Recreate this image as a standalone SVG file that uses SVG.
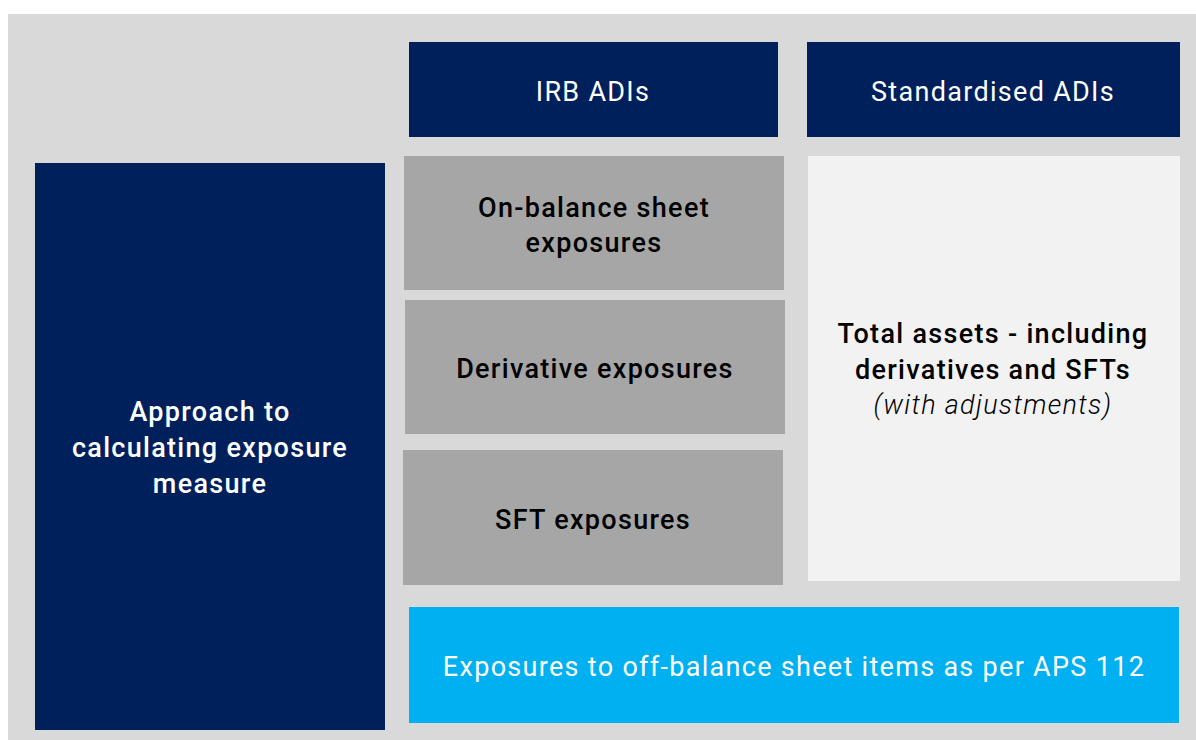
<svg xmlns="http://www.w3.org/2000/svg" width="1196" height="740" viewBox="0 0 1196 740">
  <style>
    .navy { fill: #00205b; }
    .grey { fill: #a6a6a6; }
    .light { fill: #f2f2f2; }
    .cyan { fill: #00b0f0; }
    text { font-family: Roboto, "DejaVu Sans", sans-serif; font-size: 27px; letter-spacing: 1.3px; text-anchor: middle; }
    .w { fill: #ffffff; }
    .b { fill: #000000; font-weight: 500; }
    .wb { fill: #ffffff; font-weight: 500; }
    .it { fill: #000000; font-style: italic; font-weight: 300; }
  </style>
  <rect x="0" y="0" width="1196" height="740" fill="#ffffff"/>
  <rect x="8" y="14" width="1188" height="726" fill="#d9d9d9"/>

  <g id="approach">
    <rect class="navy" x="35" y="163" width="350" height="567"/>
    <text class="wb" x="210" y="421">Approach to</text>
    <text class="wb" x="210" y="457">calculating exposure</text>
    <text class="wb" x="210" y="493">measure</text>
  </g>

  <g id="irb-header">
    <rect class="navy" x="409" y="42" width="369" height="95"/>
    <text class="w" x="593" y="101">IRB ADIs</text>
  </g>

  <g id="std-header">
    <rect class="navy" x="807" y="42" width="373" height="95"/>
    <text class="w" x="993" y="101">Standardised ADIs</text>
  </g>

  <g id="on-balance">
    <rect class="grey" x="404" y="156" width="380" height="134"/>
    <text class="b" x="594" y="217">On-balance sheet</text>
    <text class="b" x="594" y="252">exposures</text>
  </g>

  <g id="derivative">
    <rect class="grey" x="405" y="300" width="380" height="134"/>
    <text class="b" x="595" y="378">Derivative exposures</text>
  </g>

  <g id="sft">
    <rect class="grey" x="403" y="450" width="380" height="135"/>
    <text class="b" x="593" y="529">SFT exposures</text>
  </g>

  <g id="total-assets">
    <rect class="light" x="808" y="156" width="372" height="425"/>
    <text class="b" x="993" y="343">Total assets - including</text>
    <text class="b" x="993" y="379">derivatives and SFTs</text>
    <text class="it" x="993" y="414">(with adjustments)</text>
  </g>

  <g id="off-balance">
    <rect class="cyan" x="409" y="607" width="770" height="116"/>
    <text class="w" x="794" y="676">Exposures to off-balance sheet items as per APS 112</text>
  </g>

  <g id="connectors"/>
</svg>
